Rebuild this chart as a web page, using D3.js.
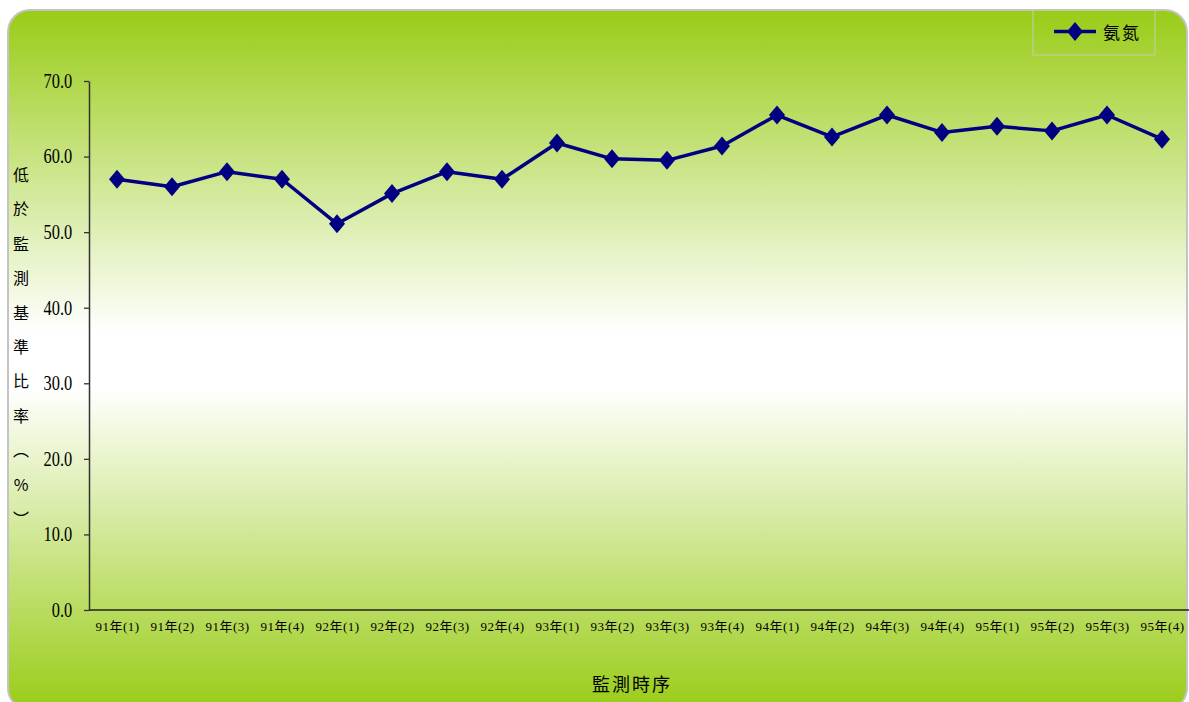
<!DOCTYPE html>
<html>
<head>
<meta charset="utf-8">
<script src="https://cdn.jsdelivr.net/npm/d3@7"></script>
<style>
  html, body { margin: 0; padding: 0; background: #ffffff; }
  svg { display: block; }
  text { fill: #000; }
</style>
</head>
<body>
<svg id="chart" width="1189" height="702"></svg>
<script>
// Quarterly share of readings below the monitoring baseline (ammonia nitrogen)
const periods = [
  "91年(1)", "91年(2)", "91年(3)", "91年(4)",
  "92年(1)", "92年(2)", "92年(3)", "92年(4)",
  "93年(1)", "93年(2)", "93年(3)", "93年(4)",
  "94年(1)", "94年(2)", "94年(3)", "94年(4)",
  "95年(1)", "95年(2)", "95年(3)", "95年(4)"
];
const ammoniaValues = [
  57.0, 56.0, 58.0, 57.0,
  51.1, 55.1, 58.0, 57.0,
  61.8, 59.7, 59.5, 61.4,
  65.5, 62.6, 65.5, 63.2,
  64.0, 63.4, 65.5, 62.3
];
const yTicks = [0, 10, 20, 30, 40, 50, 60, 70];
const seriesName = "氨氮";
const xTitle = "監測時序";
const yTitleChars = ["低", "於", "監", "測", "基", "準", "比", "率", "︵", "%", "︶"];

const svg = d3.select("#chart");
const serif = "'Liberation Serif', 'Times New Roman', 'Noto Sans CJK TC', serif";
const cjk = "'Noto Sans CJK TC', 'Noto Sans CJK SC', sans-serif";

// Background panel with vertical green-white-green gradient
const defs = svg.append("defs");
const grad = defs.append("linearGradient")
  .attr("id", "panelFill").attr("x1", 0).attr("y1", 0).attr("x2", 0).attr("y2", 1);
grad.append("stop").attr("offset", "0%").attr("stop-color", "#99cc17");
grad.append("stop").attr("offset", "46%").attr("stop-color", "#ffffff");
grad.append("stop").attr("offset", "54%").attr("stop-color", "#ffffff");
grad.append("stop").attr("offset", "100%").attr("stop-color", "#99cc17");

svg.append("rect")
  .attr("x", 8).attr("y", 10)
  .attr("width", 1179).attr("height", 700)
  .attr("rx", 22).attr("ry", 22)
  .attr("fill", "url(#panelFill)")
  .attr("stroke", "#c4c4c4").attr("stroke-width", 2);

// Scales
const x = d3.scalePoint().domain(periods).range([117, 1162]);
const y = d3.scaleLinear().domain([0, 70]).range([610, 81]);

// Y axis
const yAxis = svg.append("g")
  .attr("transform", "translate(89,0)")
  .call(d3.axisLeft(y).tickValues(yTicks).tickFormat(d3.format(".1f")).tickSize(5).tickSizeOuter(0));
yAxis.select(".domain").attr("stroke", "#333").attr("stroke-width", 1.5);
yAxis.selectAll(".tick line").attr("stroke", "#333").attr("stroke-width", 1.3);
yAxis.selectAll(".tick text")
  .attr("font-family", serif).attr("font-size", 20)
  .attr("fill", "#000")
  .attr("x", -20.5).attr("dy", "0.32em")
  .attr("transform", "scale(0.82,1)");

// X axis: baseline without tick marks
const xAxis = svg.append("g")
  .attr("transform", "translate(0,610)")
  .call(d3.axisBottom(x).tickSize(0).tickSizeOuter(0));
xAxis.select(".domain").attr("d", "M89,0H1189").attr("stroke", "#222").attr("stroke-width", 1.5);
xAxis.selectAll(".tick text")
  .attr("font-family", serif).attr("font-size", 13)
  .attr("fill", "#000")
  .attr("y", 12)
  .attr("letter-spacing", "0.5px");

// Axis titles
svg.append("text")
  .attr("x", 632).attr("y", 691)
  .attr("text-anchor", "middle")
  .attr("font-family", cjk).attr("font-size", 18)
  .attr("letter-spacing", "2px")
  .text(xTitle);

const yTitle = svg.append("text")
  .attr("font-family", cjk).attr("font-size", 16)
  .attr("text-anchor", "middle");
yTitle.selectAll("tspan")
  .data(yTitleChars)
  .join("tspan")
  .attr("x", 21)
  .attr("y", (d, i) => 181 + i * 34.4)
  .text(d => d);

// Series line and diamond markers
const diamond = "M0,-9.5L8,0L0,9.5L-8,0Z";
const line = d3.line()
  .x((d, i) => x(periods[i]))
  .y(d => y(d));

svg.append("path")
  .datum(ammoniaValues)
  .attr("d", line)
  .attr("fill", "none")
  .attr("stroke", "#000080")
  .attr("stroke-width", 3.5)
  .attr("stroke-linejoin", "round");

svg.append("g")
  .selectAll("path")
  .data(ammoniaValues)
  .join("path")
  .attr("d", diamond)
  .attr("transform", (d, i) => `translate(${x(periods[i])},${y(d)})`)
  .attr("fill", "#000080");

// Legend
const legend = svg.append("g");
legend.append("rect")
  .attr("x", 1033).attr("y", 10).attr("width", 122).attr("height", 45)
  .attr("fill", "none").attr("stroke", "#bfcf9a").attr("stroke-width", 1.2);
legend.append("line")
  .attr("x1", 1054).attr("x2", 1096).attr("y1", 31.5).attr("y2", 31.5)
  .attr("stroke", "#000080").attr("stroke-width", 3.5);
legend.append("path")
  .attr("d", diamond)
  .attr("transform", "translate(1075,31.5)")
  .attr("fill", "#000080");
legend.append("text")
  .attr("x", 1103).attr("y", 39)
  .attr("font-family", cjk).attr("font-size", 17)
  .attr("letter-spacing", "2px")
  .text(seriesName);
</script>
</body>
</html>
